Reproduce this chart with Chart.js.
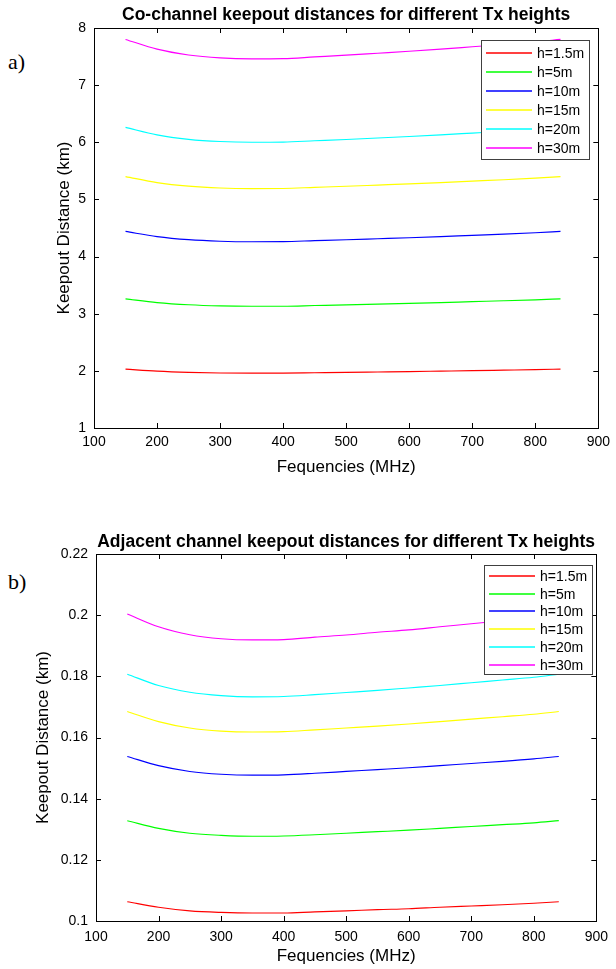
<!DOCTYPE html>
<html>
<head>
<meta charset="utf-8">
<script src="https://cdn.jsdelivr.net/npm/chart.js@4.4.0/dist/chart.umd.min.js"></script>
<style>
  html, body { margin: 0; padding: 0; background: #fff; }
  body { width: 616px; height: 969px; position: relative; overflow: hidden; }
  canvas { position: absolute; left: 0; }
  #chartA { top: 0; }
  #chartB { top: 490px; }
  .tag { position: absolute; left: 8px; font-family: "Liberation Serif", "Times New Roman", serif; font-size: 22px; line-height: 22px; color: #000; }
</style>
</head>
<body>
<div class="tag" style="top:51px">a)</div>
<canvas id="chartA" width="616" height="490"></canvas>
<div class="tag" style="top:571px">b)</div>
<canvas id="chartB" width="616" height="479"></canvas>
<script>
const freqs = [150, 200, 250, 300, 350, 400, 450, 500, 550, 600, 650, 700, 750, 800, 840];
const heightLabels = ['h=1.5m', 'h=5m', 'h=10m', 'h=15m', 'h=20m', 'h=30m'];
const lineColors = ['#ff0000', '#00ff00', '#0000ff', '#ffff00', '#00ffff', '#ff00ff'];

// a) co-channel keepout distance (km)
const coH1_5 = [2.03, 1.995, 1.974, 1.963, 1.96, 1.961, 1.967, 1.973, 1.980, 1.987, 1.995, 2.003, 2.012, 2.021, 2.03];
const coH5   = [3.26, 3.195, 3.156, 3.136, 3.13, 3.131, 3.143, 3.155, 3.168, 3.181, 3.195, 3.211, 3.226, 3.243, 3.26];
const coH10  = [4.44, 4.35, 4.296, 4.269, 4.26, 4.262, 4.278, 4.294, 4.312, 4.33, 4.35, 4.372, 4.393, 4.417, 4.44];
const coH15  = [5.40, 5.295, 5.232, 5.20, 5.19, 5.192, 5.211, 5.23, 5.251, 5.272, 5.295, 5.32, 5.345, 5.373, 5.40];
const coH20  = [6.26, 6.13, 6.052, 6.013, 6.00, 6.003, 6.026, 6.049, 6.075, 6.101, 6.13, 6.161, 6.192, 6.226, 6.26];
const coH30  = [7.80, 7.63, 7.528, 7.477, 7.46, 7.463, 7.494, 7.525, 7.559, 7.593, 7.63, 7.671, 7.712, 7.756, 7.80];

// b) adjacent channel keepout distance (km)
const adjH1_5 = [0.1063, 0.1045, 0.1033, 0.1028, 0.1026, 0.1026, 0.1030, 0.1033, 0.1037, 0.1040, 0.1045, 0.1049, 0.1053, 0.1058, 0.1063];
const adjH5   = [0.1328, 0.1303, 0.1287, 0.1280, 0.1277, 0.1278, 0.1282, 0.1287, 0.1292, 0.1297, 0.1303, 0.1309, 0.1315, 0.1321, 0.1328];
const adjH10  = [0.1538, 0.1508, 0.1489, 0.1480, 0.1477, 0.1478, 0.1483, 0.1489, 0.1495, 0.1501, 0.1508, 0.1515, 0.1522, 0.1530, 0.1538];
const adjH15  = [0.1685, 0.1652, 0.1631, 0.1621, 0.1618, 0.1619, 0.1625, 0.1631, 0.1637, 0.1644, 0.1652, 0.1660, 0.1668, 0.1676, 0.1685];
const adjH20  = [0.1807, 0.1770, 0.1748, 0.1737, 0.1733, 0.1734, 0.1740, 0.1747, 0.1754, 0.1762, 0.1770, 0.1779, 0.1788, 0.1797, 0.1807];
const adjH30  = [0.2004, 0.1962, 0.1936, 0.1923, 0.1919, 0.1920, 0.1928, 0.1935, 0.1944, 0.1952, 0.1962, 0.1972, 0.1982, 0.1993, 0.2004];

const coSeries = [coH1_5, coH5, coH10, coH15, coH20, coH30];
const adjSeries = [adjH1_5, adjH5, adjH10, adjH15, adjH20, adjH30];

const FONT = '"Liberation Sans", Arial, sans-serif';
Chart.defaults.font.family = FONT;
Chart.defaults.color = '#000';

// matlab look: boxed axes, inward ticks, title over the plot, legend inside
const matlabFrame = {
  id: 'matlabFrame',
  afterDatasetsDraw(chart, args, opts) {
    const ctx = chart.ctx;
    const a = chart.chartArea;
    ctx.save();
    ctx.strokeStyle = '#000';
    ctx.lineWidth = 1;
    ctx.strokeRect(Math.round(a.left) + 0.5, Math.round(a.top) + 0.5, Math.round(a.right - a.left), Math.round(a.bottom - a.top));
    const tl = 5;
    ctx.beginPath();
    chart.scales.x.ticks.forEach(t => {
      const px = Math.round(chart.scales.x.getPixelForValue(t.value)) + 0.5;
      ctx.moveTo(px, a.bottom); ctx.lineTo(px, a.bottom - tl);
      ctx.moveTo(px, a.top); ctx.lineTo(px, a.top + tl);
    });
    chart.scales.y.ticks.forEach(t => {
      const py = Math.round(chart.scales.y.getPixelForValue(t.value)) + 0.5;
      ctx.moveTo(a.left, py); ctx.lineTo(a.left + tl, py);
      ctx.moveTo(a.right, py); ctx.lineTo(a.right - tl, py);
    });
    ctx.stroke();

    // title
    ctx.fillStyle = '#000';
    ctx.font = 'bold 17.5px ' + FONT;
    ctx.textAlign = 'center';
    ctx.textBaseline = 'alphabetic';
    ctx.fillText(opts.title, (a.left + a.right) / 2, opts.titleY);

    // legend
    const L = opts.legend;
    ctx.fillStyle = '#fff';
    ctx.fillRect(L.x, L.y, L.w, L.h);
    ctx.strokeStyle = '#404040';
    ctx.lineWidth = 1;
    ctx.strokeRect(L.x + 0.5, L.y + 0.5, L.w, L.h);
    ctx.font = '14px ' + FONT;
    ctx.textAlign = 'left';
    ctx.textBaseline = 'middle';
    chart.data.datasets.forEach((ds, i) => {
      const y = Math.round(L.y + L.first + i * L.row);
      ctx.strokeStyle = ds.borderColor;
      ctx.lineWidth = 1.6;
      ctx.beginPath();
      ctx.moveTo(L.x + 5, y); ctx.lineTo(L.x + 51, y);
      ctx.stroke();
      ctx.fillStyle = '#000';
      ctx.fillText(ds.label, L.x + 56, y + 1);
    });
    ctx.restore();
  }
};

function makeChart(id, series, cfg) {
  const datasets = series.map((vals, i) => ({
    label: heightLabels[i],
    data: freqs.map((f, j) => ({ x: f, y: vals[j] })),
    borderColor: lineColors[i],
    borderWidth: 1.15,
    pointRadius: 0,
    fill: false,
    cubicInterpolationMode: 'monotone'
  }));
  return new Chart(document.getElementById(id), {
    type: 'line',
    data: { datasets },
    plugins: [matlabFrame],
    options: {
      responsive: false,
      animation: false,
      devicePixelRatio: 1,
      layout: { padding: { top: cfg.top, right: cfg.right, left: 0, bottom: 0 } },
      plugins: {
        legend: { display: false },
        tooltip: { enabled: false },
        matlabFrame: { title: cfg.title, titleY: cfg.titleY, legend: cfg.legend }
      },
      scales: {
        x: {
          type: 'linear', min: 100, max: 900,
          ticks: { stepSize: 100, padding: cfg.xPad, font: { size: 14 }, color: '#000', maxRotation: 0 },
          grid: { display: false, drawTicks: false },
          border: { display: false },
          title: { display: true, text: 'Fequencies (MHz)', font: { size: 17 }, color: '#000', padding: { top: 0, bottom: cfg.xTitlePad } },
          afterFit(s) { s.height = cfg.xHeight; }
        },
        y: {
          min: cfg.yMin, max: cfg.yMax,
          ticks: { stepSize: cfg.yStep, padding: 8, font: { size: 14 }, color: '#000', callback: v => String(+v.toFixed(2)) },
          grid: { display: false, drawTicks: false },
          border: { display: false },
          title: { display: true, text: 'Keepout Distance (km)', font: { size: 17 }, color: '#000', padding: { top: cfg.yTitlePad, bottom: 0 } },
          afterFit(s) { s.width = cfg.yWidth; }
        }
      }
    }
  });
}

makeChart('chartA', coSeries, {
  title: 'Co-channel keepout distances for different Tx heights',
  titleY: 19.5,
  top: 28, right: 14, yWidth: 94, xHeight: 62,
  xPad: 6, xTitlePad: 12, yTitlePad: 54,
  yMin: 1, yMax: 8, yStep: 1,
  legend: { x: 481, y: 40, w: 108, h: 119, first: 12.7, row: 19.05 }
});

makeChart('chartB', adjSeries, {
  title: 'Adjacent channel keepout distances for different Tx heights',
  titleY: 56.5,
  top: 64, right: 11, yWidth: 96, xHeight: 48,
  xPad: 8, xTitlePad: 2, yTitlePad: 33.5,
  yMin: 0.1, yMax: 0.22, yStep: 0.02,
  legend: { x: 484, y: 75, w: 108, h: 109, first: 11, row: 17.7 }
});
</script>
</body>
</html>
